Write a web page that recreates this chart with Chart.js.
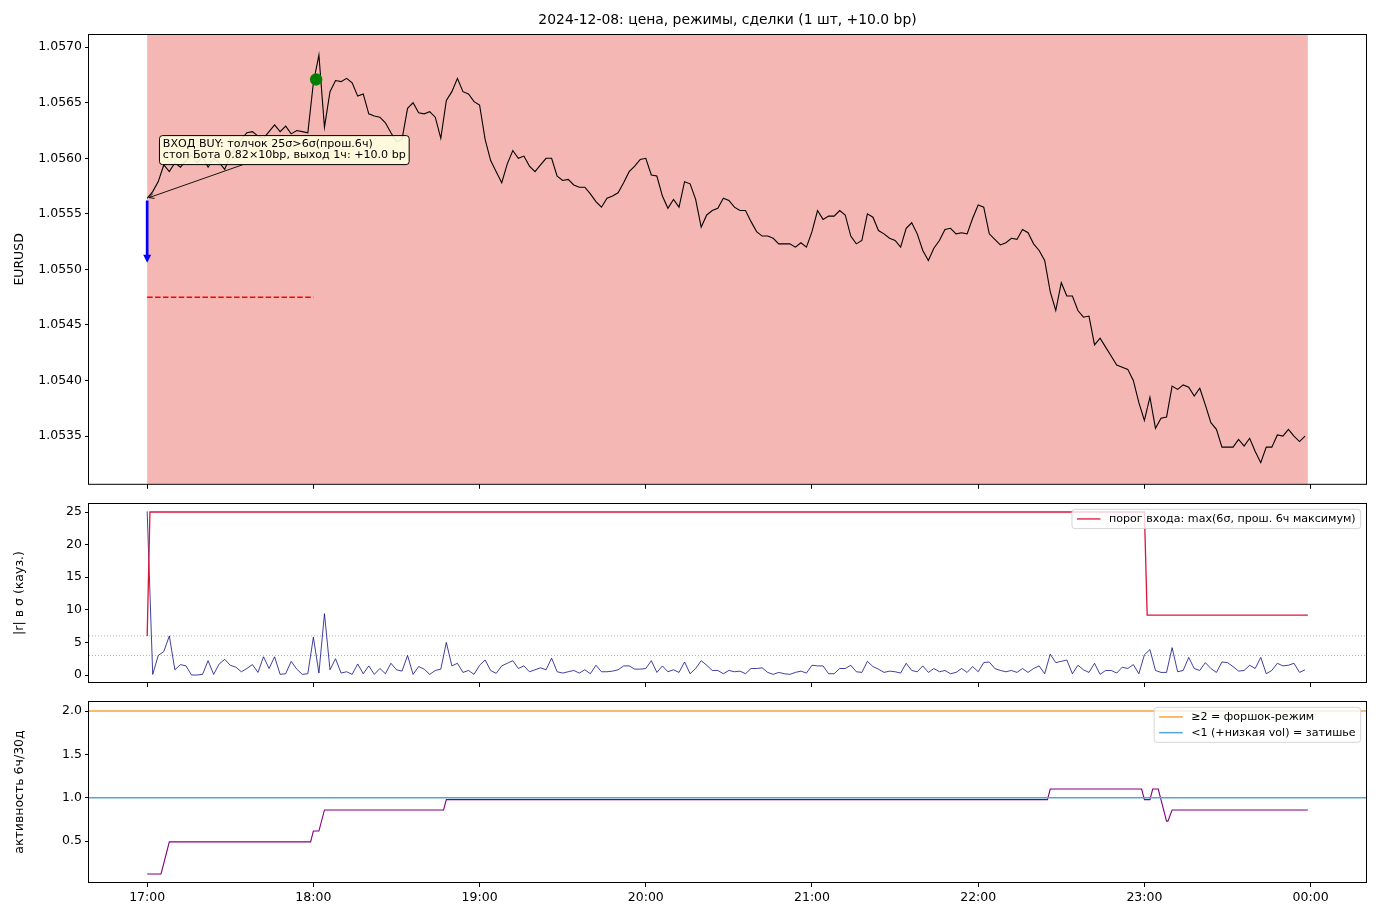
<!DOCTYPE html>
<html>
<head>
<meta charset="utf-8">
<script src="https://cdn.jsdelivr.net/npm/chart.js@4.4.1/dist/chart.umd.min.js"></script>
<style>
html, body { margin: 0; padding: 0; background: #fff; }
#wrap { position: relative; width: 1380px; height: 920px; overflow: hidden; }
#wrap canvas { position: absolute; left: 0; }
</style>
</head>
<body>
<div id="wrap">
  <canvas id="cPrice" width="1380" height="490" style="top:0px"></canvas>
  <canvas id="cShock" width="1380" height="200" style="top:490px"></canvas>
  <canvas id="cAct" width="1380" height="230" style="top:690px"></canvas>
</div>
<script>
// ---- data (minutes counted from 17:00) ----
var xTickLabels = ['17:00', '18:00', '19:00', '20:00', '21:00', '22:00', '23:00', '00:00'];
var stepMin = 2;

// EURUSD close, every 2 min from 17:00
var priceEURUSD = [
  1.05564, 1.05570, 1.05579, 1.05594, 1.05588, 1.05596, 1.05592, 1.05598, 1.05603, 1.05596,
  1.05601, 1.05592, 1.05600, 1.05596, 1.05590, 1.05603, 1.05610, 1.05617, 1.05623, 1.05624,
  1.05620, 1.05618, 1.05624, 1.05630, 1.05624, 1.05629, 1.05622, 1.05625, 1.05624, 1.05623,
  1.05668, 1.05693, 1.05628, 1.05660, 1.05670, 1.05669, 1.05672, 1.05668, 1.05656, 1.05658,
  1.05640, 1.05638, 1.05637, 1.05632, 1.05623, 1.05615, 1.05617, 1.05645, 1.05650, 1.05641,
  1.05640, 1.05642, 1.05637, 1.05618, 1.05652, 1.05660, 1.05672, 1.05660, 1.05658, 1.05651,
  1.05648, 1.05617, 1.05598, 1.05588, 1.05578, 1.05595, 1.05607, 1.05600, 1.05602, 1.05593,
  1.05588, 1.05594, 1.05600, 1.05600, 1.05584, 1.05580, 1.05581, 1.05576, 1.05574, 1.05574,
  1.05568, 1.05561, 1.05556, 1.05564, 1.05566, 1.05569, 1.05578, 1.05588, 1.05593, 1.05599,
  1.05600, 1.05585, 1.05584, 1.05566, 1.05555, 1.05563, 1.05556, 1.05579, 1.05577, 1.05563,
  1.05538, 1.05549, 1.05553, 1.05555, 1.05564, 1.05562, 1.05556, 1.05553, 1.05553, 1.05543,
  1.05534, 1.05530, 1.05530, 1.05528, 1.05523, 1.05523, 1.05523, 1.05520, 1.05524, 1.05520,
  1.05534, 1.05553, 1.05545, 1.05548, 1.05548, 1.05553, 1.05549, 1.05530, 1.05523, 1.05526,
  1.05550, 1.05547, 1.05535, 1.05532, 1.05528, 1.05526, 1.05520, 1.05537, 1.05542, 1.05532,
  1.05517, 1.05508, 1.05519, 1.05526, 1.05536, 1.05537, 1.05532, 1.05533, 1.05532, 1.05546,
  1.05558, 1.05556, 1.05532, 1.05527, 1.05522, 1.05524, 1.05528, 1.05527, 1.05536, 1.05533,
  1.05523, 1.05517, 1.05508, 1.05480, 1.05463, 1.05488, 1.05476, 1.05476, 1.05463, 1.05457,
  1.05458, 1.05432, 1.05438, 1.05430, 1.05422, 1.05414, 1.05412, 1.05410, 1.05400, 1.05380,
  1.05364, 1.05385, 1.05357, 1.05366, 1.05367, 1.05395, 1.05392, 1.05396, 1.05394, 1.05386,
  1.05393, 1.05378, 1.05362, 1.05356, 1.05340, 1.05340, 1.05340, 1.05347, 1.05341, 1.05348,
  1.05336, 1.05326, 1.05340, 1.05340, 1.05351, 1.05350, 1.05356, 1.05350, 1.05345, 1.05350
];

// |r| in sigma (causal), same 2 min grid
var shockSigma = [
  25.1, 0.1, 3.0, 3.6, 6.0, 0.8, 1.6, 1.4, 0, 0,
  0.1, 2.2, 0.1, 1.7, 2.4, 1.5, 1.2, 0.5, 1.0, 1.6,
  0.4, 2.8, 1.0, 2.8, 0.1, 0.2, 2.1, 0.9, 0.1, 0.2,
  5.8, 0.3, 9.4, 0.8, 2.5, 0.3, 0.5, 0.1, 1.7, 0.2,
  1.4, 0.1, 1.0, 0.2, 1.8, 0.8, 0.6, 3.0, 0.1, 1.3,
  0.9, 0.1, 0.7, 0.9, 5.0, 1.4, 1.8, 0.4, 0.7, 0.1,
  1.5, 2.3, 0.7, 0.25, 1.4, 1.8, 2.2, 1.0, 1.4, 0.5,
  0.8, 1.1, 0.8, 2.6, 0.5, 0.3, 0.5, 0.7, 0.3, 0.8,
  0.2, 1.5, 0.5, 0.5, 0.6, 0.8, 1.4, 1.4, 0.9, 0.9,
  1.0, 2.2, 0.4, 1.4, 0.5, 0.8, 0.4, 2.0, 0.2, 1.0,
  2.2, 1.5, 0.7, 0.7, 0.2, 0.7, 0.5, 0.6, 0.2, 1.0,
  1.0, 1.1, 0.4, 0.1, 0.4, 0.2, 0.1, 0.4, 0.6, 0.3,
  1.5, 1.4, 1.4, 0.2, 0.2, 1.0, 1.0, 1.5, 0.5, 0.4,
  2.1, 1.3, 0.9, 0.4, 0.6, 0.5, 0.3, 1.8, 0.7, 0.5,
  1.4, 0.4, 1.0, 0.5, 0.7, 0.2, 0.4, 1.0, 0.4, 1.3,
  0.5, 1.9, 2.0, 1.0, 0.7, 0.5, 0.7, 0.4, 1.0, 0.4,
  1.0, 1.4, 0.2, 3.2, 1.9, 2.1, 2.3, 0.2, 1.5, 0.8,
  0.4, 1.8, 0.1, 0.7, 0.7, 0.3, 1.2, 1.0, 1.6, 0.2,
  3.1, 3.9, 0.7, 0.4, 0.4, 4.2, 0.5, 0.7, 2.7, 1.0,
  0.7, 1.9, 1.0, 0.4, 2.0, 1.9, 1.3, 0.6, 0.7, 1.5,
  1.0, 2.7, 0.2, 0.7, 1.8, 1.4, 1.5, 1.8, 0.4, 0.8
];

// entry threshold: max(6σ, max of previous 6h)
var thresholdMin = [0, 1, 360, 361, 419];
var thresholdSigma = [6, 25, 25, 9.2, 9.2];
var shockRefLevels = [6, 3];

// activity 6h / 30d
var activityMin = [0, 5, 8, 59, 60, 62, 64, 107, 108, 325, 326, 359, 360, 362, 363, 365, 368, 368.5, 370, 419];
var activityRatio = [0.12, 0.12, 0.49, 0.49, 0.615, 0.615, 0.858, 0.858, 0.978, 0.978, 1.10, 1.10, 0.978, 0.978, 1.10, 1.10, 0.73, 0.73, 0.858, 0.858];
var foreshockLevel = 2;
var calmLevel = 1;

// trade
var regimeStartMin = 0, regimeEndMin = 419;
var entryMin = 0;
var entryArrowFrom = 1.05562, entryArrowTo = 1.05506;
var stopPrice = 1.05475, stopEndMin = 60;
var exitMin = 61, exitPrice = 1.05671;
var noteLines = ['ВХОД BUY: толчок 25σ>6σ(прош.6ч)', 'стоп Бота 0.82×10bp, выход 1ч: +10.0 bp'];

// ---- helpers ----
Chart.defaults.font.family = "'DejaVu Sans', sans-serif";
Chart.defaults.color = '#000';

var X_MIN = -21, X_MAX = 440;
var FONT = "'DejaVu Sans', sans-serif";

function onGrid(values) {
	return values.map(function (v, i) { return { x: i * stepMin, y: v }; });
}
function pairs(xs, ys) {
	return xs.map(function (x, i) { return { x: x, y: ys[i] }; });
}
function hline(v) {
	return [{ x: X_MIN, y: v }, { x: X_MAX, y: v }];
}

function xAxis(showLabels, h) {
	return {
		type: 'linear', min: X_MIN, max: X_MAX,
		ticks: {
			display: showLabels, stepSize: 60, includeBounds: false, autoSkip: false, maxRotation: 0,
			font: { size: 12.5 }, padding: 3,
			callback: function (v) { return xTickLabels[Math.round(v / 60)]; }
		},
		grid: { drawOnChartArea: false, drawTicks: true, tickLength: 5, color: '#000' },
		border: { display: false },
		afterFit: function (s) { s.height = h; s.paddingLeft = 0; s.paddingRight = 0; }
	};
}

function yAxis(min, max, step, digits, title) {
	return {
		type: 'linear', min: min, max: max,
		ticks: {
			stepSize: step, includeBounds: false, autoSkip: false, font: { size: 12.5 }, padding: 3,
			callback: function (v) { return v.toFixed(digits); }
		},
		grid: { drawOnChartArea: false, drawTicks: true, tickLength: 4, color: '#000' },
		border: { display: false },
		title: { display: true, text: title, font: { size: 12.5 }, padding: { top: 12, bottom: 0 } },
		afterFit: function (s) { s.width = 89; s.paddingTop = 0; s.paddingBottom = 0; }
	};
}

function baseOptions(top, xAx, yAx) {
	return {
		responsive: false,
		animation: false,
		events: [],
		layout: { padding: { left: 0, right: 14, top: top, bottom: 0 } },
		plugins: { legend: { display: false }, tooltip: { enabled: false } },
		scales: { x: xAx, y: yAx }
	};
}

function line(data, color, width, extra) {
	var ds = {
		data: data, borderColor: color, borderWidth: width, pointRadius: 0,
		fill: false, tension: 0, showLine: true
	};
	for (var k in extra) ds[k] = extra[k];
	return ds;
}

// frame round every axes, like matplotlib spines
var framePlugin = {
	id: 'frame',
	afterDraw: function (chart) {
		var a = chart.chartArea, ctx = chart.ctx;
		ctx.save();
		ctx.strokeStyle = '#000';
		ctx.lineWidth = 1;
		ctx.strokeRect(a.left - 0.5, a.top - 0.5, a.right - a.left + 1, a.bottom - a.top + 1);
		ctx.restore();
	}
};

function drawLegend(chart, entries) {
	var ctx = chart.ctx, a = chart.chartArea;
	ctx.save();
	ctx.font = '11.1px ' + FONT;
	var tw = 0;
	entries.forEach(function (e) { tw = Math.max(tw, ctx.measureText(e.text).width); });
	var rowH = 15.7, pad = 1.8;
	var w = 5 + 23.5 + 8.5 + tw + 5;
	var h = pad * 2 + rowH * entries.length;
	var x1 = a.right - 5.3, x0 = x1 - w, y0 = a.top + 5.3;
	ctx.beginPath();
	ctx.roundRect(x0, y0, w, h, 3);
	ctx.fillStyle = 'rgba(255,255,255,0.8)';
	ctx.fill();
	ctx.strokeStyle = 'rgba(204,204,204,0.8)';
	ctx.lineWidth = 1;
	ctx.stroke();
	entries.forEach(function (e, i) {
		var cy = y0 + pad + rowH * (i + 0.5);
		ctx.strokeStyle = e.color;
		ctx.lineWidth = e.width;
		ctx.beginPath();
		ctx.moveTo(x0 + 5, cy);
		ctx.lineTo(x0 + 28.5, cy);
		ctx.stroke();
		ctx.fillStyle = '#000';
		ctx.textBaseline = 'middle';
		ctx.fillText(e.text, x0 + 37, cy);
	});
	ctx.restore();
}

// ---- price panel ----
var pricePlugin = {
	id: 'trade',
	beforeDatasetsDraw: function (chart) {
		var a = chart.chartArea, x = chart.scales.x, ctx = chart.ctx;
		var x0 = x.getPixelForValue(regimeStartMin), x1 = x.getPixelForValue(regimeEndMin);
		ctx.save();
		ctx.fillStyle = '#f5b7b3';
		ctx.fillRect(x0, a.top, x1 - x0, a.bottom - a.top);
		ctx.restore();
	},
	afterDatasetsDraw: function (chart) {
		var x = chart.scales.x, y = chart.scales.y, ctx = chart.ctx;
		ctx.save();
		// head of the entry arrow
		var ax = x.getPixelForValue(entryMin), ay = y.getPixelForValue(entryArrowTo);
		ctx.fillStyle = 'blue';
		ctx.beginPath();
		ctx.moveTo(ax, ay);
		ctx.lineTo(ax - 4, ay - 8);
		ctx.lineTo(ax + 4, ay - 8);
		ctx.closePath();
		ctx.fill();

		// note box with arrow to the entry point
		var px = x.getPixelForValue(entryMin), py = y.getPixelForValue(priceEURUSD[0]);
		ctx.font = '11.1px ' + FONT;
		var tx = px + 15.7, l1 = py - 54.4, gap = 11.7;
		var tw = 0;
		noteLines.forEach(function (t) { tw = Math.max(tw, ctx.measureText(t).width); });
		var bx0 = tx - 3.4, bx1 = tx + tw + 3.4;
		var by0 = l1 - 8.3, by1 = l1 + gap * (noteLines.length - 1) + 9;
		var cx = (bx0 + bx1) / 2, cy = (by0 + by1) / 2;
		// where the line leaves the box
		var dx = px - cx, dy = py - cy;
		var t = Math.min(Math.abs((bx1 - bx0) / 2 / dx), Math.abs((by1 - by0) / 2 / dy));
		var sx = cx + dx * t, sy = cy + dy * t;
		var len = Math.sqrt(dx * dx + dy * dy), ux = dx / len, uy = dy / len;
		var ex = px - ux * 2, ey = py - uy * 2;
		ctx.strokeStyle = '#000';
		ctx.lineWidth = 0.9;
		ctx.beginPath();
		ctx.moveTo(sx, sy);
		ctx.lineTo(ex, ey);
		var hl = 5, hw = 2.6;
		ctx.moveTo(ex - ux * hl - uy * hw, ey - uy * hl + ux * hw);
		ctx.lineTo(ex, ey);
		ctx.lineTo(ex - ux * hl + uy * hw, ey - uy * hl - ux * hw);
		ctx.stroke();

		ctx.beginPath();
		ctx.roundRect(bx0, by0, bx1 - bx0, by1 - by0, 3);
		ctx.fillStyle = 'rgba(255,255,224,0.9)';
		ctx.fill();
		ctx.lineWidth = 1;
		ctx.strokeStyle = '#000';
		ctx.stroke();
		ctx.fillStyle = '#000';
		ctx.textBaseline = 'middle';
		noteLines.forEach(function (tl, i) { ctx.fillText(tl, tx, l1 + gap * i); });
		ctx.restore();
	},
	afterDraw: function (chart) {
		var a = chart.chartArea, ctx = chart.ctx;
		ctx.save();
		ctx.font = '13.9px ' + FONT;
		ctx.fillStyle = '#000';
		ctx.textAlign = 'center';
		ctx.textBaseline = 'middle';
		ctx.fillText('2024-12-08: цена, режимы, сделки (1 шт, +10.0 bp)', (a.left + a.right) / 2, 20);
		ctx.restore();
	}
};

new Chart(document.getElementById('cPrice'), {
	type: 'scatter',
	data: {
		datasets: [
			{ data: [{ x: exitMin, y: exitPrice }], pointRadius: 6.2, pointBackgroundColor: 'green', pointBorderWidth: 0, showLine: false },
			line([{ x: entryMin, y: entryArrowFrom }, { x: entryMin, y: entryArrowTo + 0.00003 }], 'blue', 2.7, {}),
			line([{ x: entryMin, y: stopPrice }, { x: stopEndMin, y: stopPrice }], 'red', 1.5, { borderDash: [5.5, 2.4] }),
			line(onGrid(priceEURUSD), '#000', 1.1, {})
		]
	},
	options: baseOptions(35, xAxis(false, 6), yAxis(1.05307, 1.05711, 0.0005, 4, 'EURUSD')),
	plugins: [pricePlugin, framePlugin]
});

// ---- shock panel ----
var shockLegend = {
	id: 'shockLegend',
	afterDraw: function (chart) {
		drawLegend(chart, [{ text: 'порог входа: max(6σ, прош. 6ч максимум)', color: 'crimson', width: 1.3 }]);
	}
};

new Chart(document.getElementById('cShock'), {
	type: 'scatter',
	data: {
		datasets: [
			line(pairs(thresholdMin, thresholdSigma), 'crimson', 1.3, {}),
			line(onGrid(shockSigma), 'navy', 0.75, {}),
			line(hline(shockRefLevels[0]), '#8c8c8c', 0.7, { borderDash: [1, 2] }),
			line(hline(shockRefLevels[1]), '#8c8c8c', 0.7, { borderDash: [1, 2] })
		]
	},
	options: baseOptions(14, xAxis(false, 8), yAxis(-1.07, 26.23, 5, 0, '|r| в σ (кауз.)')),
	plugins: [framePlugin, shockLegend]
});

// ---- activity panel ----
var actLegend = {
	id: 'actLegend',
	afterDraw: function (chart) {
		drawLegend(chart, [
			{ text: '≥2 = форшок-режим', color: '#f7a43a', width: 1.5 },
			{ text: '<1 (+низкая vol) = затишье', color: '#58a3d8', width: 1.5 }
		]);
	}
};

new Chart(document.getElementById('cAct'), {
	type: 'scatter',
	data: {
		datasets: [
			line(hline(foreshockLevel), '#f7a43a', 1.6, {}),
			line(hline(calmLevel), '#58a3d8', 1.6, {}),
			line(pairs(activityMin, activityRatio), 'purple', 1.1, {})
		]
	},
	options: baseOptions(12, xAxis(true, 38), yAxis(0.027, 2.104, 0.5, 1, 'активность 6ч/30д')),
	plugins: [framePlugin, actLegend]
});
</script>
</body>
</html>
